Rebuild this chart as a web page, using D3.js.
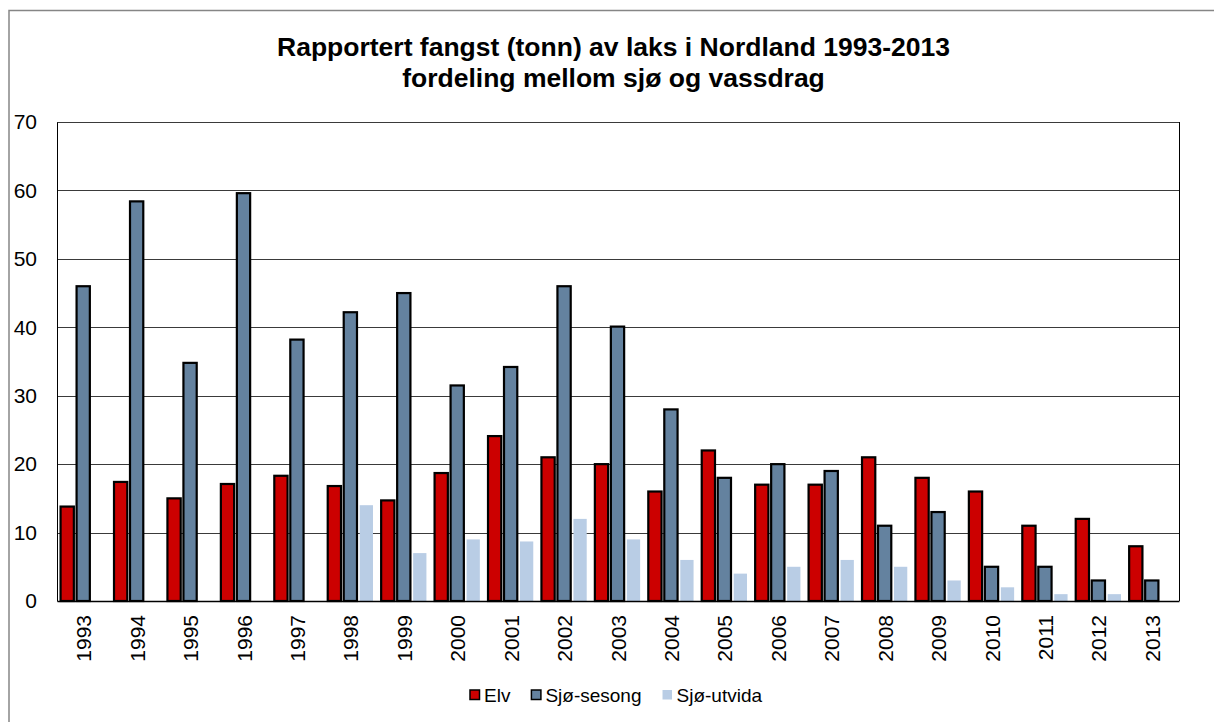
<!DOCTYPE html>
<html>
<head>
<meta charset="utf-8">
<script src="https://cdn.jsdelivr.net/npm/d3@7"></script>
<style>
  body { margin: 0; background: #fff; }
  svg { display: block; font-family: "Liberation Sans", Arial, sans-serif; }
</style>
</head>
<body>
<div class="visContainer"></div>
<script>
// Data.
const years = ['1993', '1994', '1995', '1996', '1997', '1998', '1999', '2000', '2001', '2002', '2003',
               '2004', '2005', '2006', '2007', '2008', '2009', '2010', '2011', '2012', '2013'];
const series = ['Elv', 'Sjø-sesong', 'Sjø-utvida'];
const elv = [13.8, 17.4, 15.0, 17.1, 18.3, 16.8, 14.7, 18.7, 24.1, 21, 20,
             16, 22, 17, 17, 21, 18, 16, 11, 12, 8];
const sjoSesong = [46.0, 58.4, 34.8, 59.6, 38.2, 42.2, 45.0, 31.5, 34.2, 46.0, 40.1,
                   28, 18, 20, 19, 11, 13, 5, 5, 3, 3];
const sjoUtvida = [0, 0, 0, 0, 0, 14, 7, 9, 8.7, 12, 9,
                   6, 4, 5, 6, 5, 3, 2, 1, 1, 0];
const yTicks = [0, 10, 20, 30, 40, 50, 60, 70];
const titleLines = ['Rapportert fangst (tonn) av laks i Nordland 1993-2013',
                    'fordeling mellom sjø og vassdrag'];

// SVG constants.
const width = 1214;
const height = 722;
const plot = {left: 57, right: 1179, top: 122, bottom: 601};

const colors = {'Elv': '#cc0000', 'Sjø-sesong': '#64829f', 'Sjø-utvida': '#b9cde5'};
const outlined = {'Elv': true, 'Sjø-sesong': true, 'Sjø-utvida': false};

const rows = years.map((y, i) => ({
    year: y,
    values: [
        {key: 'Elv', value: elv[i]},
        {key: 'Sjø-sesong', value: sjoSesong[i]},
        {key: 'Sjø-utvida', value: sjoUtvida[i]}
    ]
}));

// Scales.
const x0 = d3.scaleBand()
             .domain(years)
             .range([plot.left, plot.right]);

const x1 = d3.scaleBand()
             .domain(series)
             .range([0, x0.bandwidth()])
             .paddingInner(0.17)
             .paddingOuter(0.255);

const y = d3.scaleLinear()
            .domain([0, 70])
            .range([plot.bottom, plot.top]);

// Create and append SVG.
const svg = d3.select('.visContainer')
              .append('svg')
              .attr('width', width)
              .attr('height', height);

// Chart frame.
svg.append('rect')
   .attr('x', 9)
   .attr('y', 10.5)
   .attr('width', 1300)
   .attr('height', 800)
   .attr('fill', 'none')
   .attr('stroke', '#868686')
   .attr('stroke-width', 1.5);

// Title.
svg.append('g')
   .attr('id', 'title')
   .selectAll('text')
   .data(titleLines)
   .enter()
   .append('text')
   .attr('x', 613.5)
   .attr('y', (d, i) => 56 + i * 31)
   .attr('text-anchor', 'middle')
   .style('font-size', '26.5px')
   .style('font-weight', 'bold')
   .text((d) => d);

// Gridlines.
svg.append('g')
   .attr('class', 'grid')
   .selectAll('line')
   .data(yTicks.filter((d) => d > 0))
   .enter()
   .append('line')
   .attr('x1', plot.left)
   .attr('x2', plot.right)
   .attr('y1', (d) => Math.round(y(d)) + 0.5)
   .attr('y2', (d) => Math.round(y(d)) + 0.5)
   .attr('stroke', '#3a3a3a')
   .attr('stroke-width', 1);

// Plot border (right side).
svg.append('line')
   .attr('x1', plot.right + 0.5)
   .attr('x2', plot.right + 0.5)
   .attr('y1', plot.top)
   .attr('y2', plot.bottom)
   .attr('stroke', '#000');

// Bars.
svg.append('g')
   .attr('class', 'bars')
   .selectAll('g')
   .data(rows)
   .enter()
   .append('g')
   .attr('transform', (d) => 'translate(' + x0(d.year) + ',0)')
   .selectAll('rect')
   .data((d) => d.values.filter((v) => v.value > 0))
   .enter()
   .append('rect')
   .attr('x', (d) => x1(d.key) - 0.5)
   .attr('y', (d) => y(d.value))
   .attr('width', x1.bandwidth())
   .attr('height', (d) => y(0) - y(d.value))
   .attr('fill', (d) => colors[d.key])
   .attr('stroke', (d) => outlined[d.key] ? '#000' : 'none')
   .attr('stroke-width', 2.2);

// Y axis.
const yAxis = d3.axisLeft(y)
                .tickValues(yTicks)
                .tickSize(0)
                .tickPadding(20);

const yAxisG = svg.append('g')
   .attr('transform', 'translate(' + plot.left + ',0)')
   .call(yAxis);
yAxisG.select('.domain')
      .attr('stroke', '#000')
      .attr('stroke-width', 1);
yAxisG.selectAll('text')
      .attr('fill', '#000')
      .style('font-size', '21px')
      .style('font-family', '"Liberation Sans", Arial, sans-serif');

// X axis.
const xAxis = d3.axisBottom(x0).tickSize(0);

const xAxisG = svg.append('g')
   .attr('transform', 'translate(0,' + plot.bottom + ')')
   .call(xAxis);
xAxisG.select('.domain')
      .attr('stroke', '#000')
      .attr('stroke-width', 1.5);
xAxisG.selectAll('text')
      .attr('fill', '#000')
      .attr('transform', 'rotate(-90)')
      .attr('x', -14)
      .attr('y', 0)
      .attr('dy', '0.36em')
      .attr('text-anchor', 'end')
      .style('font-size', '21px')
      .style('font-family', '"Liberation Sans", Arial, sans-serif');

// Legend.
const legend = svg.append('g').attr('id', 'legend');
let lx = 469;
series.forEach((key) => {
    legend.append('rect')
          .attr('x', lx + 1)
          .attr('y', 690)
          .attr('width', 9.5)
          .attr('height', 9.5)
          .attr('fill', colors[key])
          .attr('stroke', outlined[key] ? '#000' : 'none')
          .attr('stroke-width', 1.5);
    const t = legend.append('text')
                    .attr('x', lx + 15)
                    .attr('y', 701.5)
                    .style('font-size', '19px')
                    .text(key);
    lx += 15 + t.node().getComputedTextLength() + 20;
});
</script>
</body>
</html>
